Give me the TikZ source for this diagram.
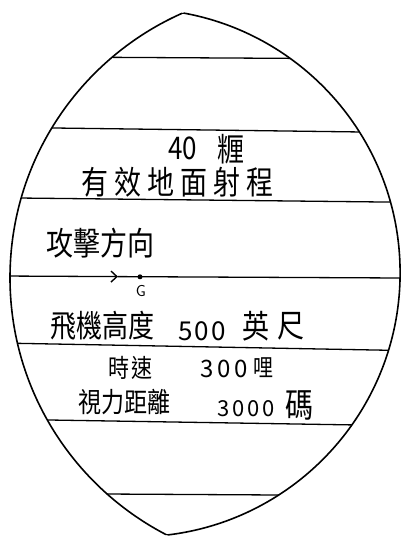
\documentclass[tikz,border=0pt]{standalone}
\usepackage{fontspec}
\newfontfamily\cjk{Noto Sans CJK TC}
\usetikzlibrary{arrows.meta}
\newcommand{\fs}[1]{\fontsize{#1}{#1}\selectfont}
\newcommand{\tall}[1]{\scalebox{1}[1.2]{#1}}
\begin{document}
\begin{tikzpicture}[x=1pt,y=-1pt,
  outline/.style={line width=1.6pt,black},
  rule/.style={line width=1.3pt,black},
  txt/.style={inner sep=0pt,anchor=west,font=\cjk},
  gdot/.style={circle,fill=black,inner sep=0pt,minimum size=5pt}]
\useasboundingbox (0,0) rectangle (401,538);
\coordinate (LC) at (299.2,277.8);
\coordinate (RC) at (136.1,272.8);
% horizontal rules, clipped to the lens
\begin{scope}
  \clip (LC) circle[radius=289.2pt];
  \clip (RC) circle[radius=264pt];
  \draw[rule] (0,56.7) -- (401,59);
  \draw[rule] (0,127.3) -- (401,132.5);
  \draw[rule] (0,197.8) -- (401,202.2);
  \draw[rule] (0,343) -- (401,350.5);
  \draw[rule] (0,419.2) -- (401,425.7);
  \draw[rule] (0,493.4) -- (401,495.7);
  \coordinate (arrL) at (0,276);
  \coordinate (arrT) at (118,276.6);
  \coordinate (arrR) at (401,278);
  \draw[rule,-{Straight Barb[length=6pt,width=11pt,line width=1.4pt]}] (arrL) -- (arrT);
  \draw[rule] (arrT) -- (arrR);
\end{scope}
% lens outline
\begin{scope}
  \clip (LC) circle[radius=289.2pt];
  \draw[outline] (RC) circle[radius=264pt];
\end{scope}
\begin{scope}
  \clip (RC) circle[radius=264pt];
  \draw[outline] (LC) circle[radius=289.2pt];
\end{scope}
% G point
\node[gdot] (G) at (140,276.8) {};
\node[inner sep=0pt,font=\sffamily\fs{16}] (Glab) at (141,291) {G};
% texts
\node[txt,font=\cjk\fs{26}] (n40) at (168,148) {\tall{40}};
\node[txt,font=\cjk\fs{27}] (li) at (217,149) {\tall{糎}};
\node[txt,font=\cjk\fs{27}] (range) at (81,182) {\tall{有\hspace{6pt}效\hspace{6pt}地\hspace{6pt}面\hspace{6pt}射\hspace{6pt}程}};
\node[txt,font=\cjk\fs{27}] (attack) at (46,243) {\tall{攻擊方向}};
\node[txt,font=\cjk\fs{26}] (alt) at (50,326) {\tall{飛機高度}};
\node[txt,font=\cjk\fs{26}] (n500) at (178,331) {5\hspace{2pt}0\hspace{2pt}0};
\node[txt,font=\cjk\fs{27}] (ying) at (242,326) {\tall{英}};
\node[txt,font=\cjk\fs{27}] (chi) at (277,326) {\tall{尺}};
\node[txt,font=\cjk\fs{21}] (shi) at (108,368) {\tall{時}};
\node[txt,font=\cjk\fs{21}] (su) at (131,368) {\tall{速}};
\node[txt,font=\cjk\fs{24}] (n300) at (200,369) {3\hspace{4pt}0\hspace{4pt}0};
\node[txt,font=\cjk\fs{20}] (mile) at (253,368) {\tall{哩}};
\node[txt,font=\cjk\fs{23}] (vis) at (78,402) {\tall{視力距離}};
\node[txt,font=\cjk\fs{22}] (n3000) at (217,409) {3\hspace{3pt}0\hspace{3pt}0\hspace{3pt}0};
\node[txt,font=\cjk\fs{28}] (yard) at (285,405) {\tall{碼}};
\end{tikzpicture}
\end{document}
